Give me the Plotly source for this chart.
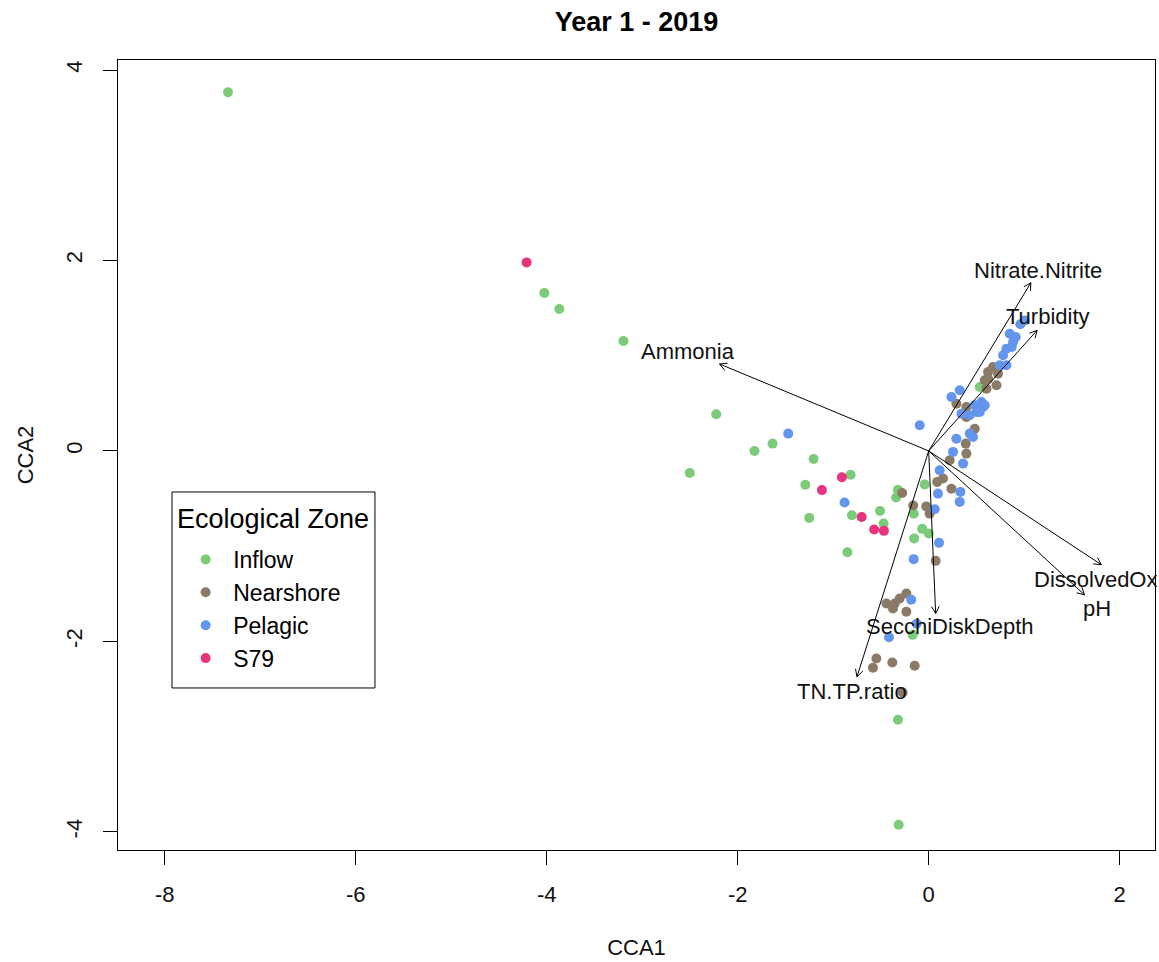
import math
import plotly.graph_objects as go

# ---------------- data ----------------
zones = ["Inflow", "Nearshore", "Pelagic", "S79"]
zone_colors = ["#7CCB79", "#8B7B66", "#6495ED", "#E8347F"]

inflow_x = [-7.338, -4.025, -3.868, -3.197, -2.225, -2.502, -1.824, -1.635, -1.205, -1.292,
            -0.818, -1.251, -0.804, -0.510, -0.472, -0.852, -0.322, -0.341, -0.042, -0.157,
            -0.068, 0.000, -0.152, -0.168, -0.322, -0.314, 0.535]
inflow_y = [3.767, 1.658, 1.490, 1.154, 0.385, -0.231, 0.000, 0.077, -0.084, -0.354,
            -0.249, -0.703, -0.675, -0.630, -0.763, -1.063, -0.409, -0.488, -0.352, -0.658,
            -0.818, -0.866, -0.918, -1.931, -2.823, -3.924, 0.672]

nearshore_x = [-0.278, -0.162, -0.026, 0.010, 0.238, 0.150, 0.089, 0.073, 0.395, 0.220,
               0.388, 0.482, 0.395, 0.395, 0.290, 0.605, 0.710, 0.622, 0.726, 0.674,
               0.622, -0.234, -0.304, -0.443, -0.356, -0.374, -0.234, -0.548, -0.584, -0.381,
               -0.147, -0.273, 0.587]
nearshore_y = [-0.441, -0.572, -0.582, -0.658, -0.396, -0.289, -0.325, -1.154, -0.028, -0.098,
               0.077, 0.234, 0.357, 0.462, 0.496, 0.654, 0.689, 0.759, 0.811, 0.881,
               0.829, -1.497, -1.550, -1.602, -1.602, -1.655, -1.689, -2.179, -2.277, -2.221,
               -2.256, -2.536, 0.742]

pelagic_x = [1.006, 0.960, 0.849, 0.884, 0.814, 0.779, 0.744, 0.814, 0.912, 0.870,
             0.325, 0.238, 0.552, 0.569, 0.500, 0.430, -0.094, 0.430, 0.290, 0.255,
             0.360, 0.115, 0.097, 0.325, 0.063, 0.108, -0.157, -0.183, -0.416, -0.126,
             -1.471, -0.881, 0.332, 0.587, 0.482, 0.535, 0.464, 0.343]
pelagic_y = [1.371, 1.330, 1.231, 1.144, 1.073, 1.004, 0.899, 0.899, 1.196, 1.091,
             0.637, 0.567, 0.514, 0.462, 0.409, 0.375, 0.270, 0.182, 0.129, -0.010,
             -0.133, -0.203, -0.448, -0.535, -0.612, -0.965, -1.136, -1.563, -1.957, -1.815,
             0.182, -0.542, -0.430, 0.480, 0.480, 0.409, 0.147, 0.391]

s79_x = [-4.211, -0.909, -1.118, -0.702, -0.571, -0.469]
s79_y = [1.980, -0.276, -0.411, -0.693, -0.824, -0.839]

env_names = ["Nitrate.Nitrite", "Turbidity", "Ammonia", "DissolvedOx", "pH",
             "SecchiDiskDepth", "TN.TP.ratio"]
env_x = [1.070, 1.135, -2.190, 1.808, 1.632, 0.073, -0.751]
env_y = [1.766, 1.266, 0.913, -1.194, -1.511, -1.707, -2.371]
label_x = [1.140, 1.247, -2.516, 1.080, 1.761, 0.220, -0.807]
label_y = [1.900, 1.417, 1.049, -1.354, -1.658, -1.847, -2.529]
label_anchor = ["center", "center", "center", "left", "center", "center", "center"]

xticks = [-8, -6, -4, -2, 0, 2]
yticks = [-4, -2, 0, 2, 4]

FONT = "Liberation Sans, Arial"

# ---------------- figure ----------------
fig = go.Figure()

series = [(inflow_x, inflow_y), (nearshore_x, nearshore_y), (pelagic_x, pelagic_y), (s79_x, s79_y)]
for name, col, (sx, sy) in zip(zones, zone_colors, series):
    fig.add_trace(go.Scatter(x=sx, y=sy, mode="markers", name=name,
                             marker=dict(color=col, size=10, line=dict(width=0))))

# biplot arrows (shaft + open V head computed from vector)
ax_list, ay_list = [], []
head_len = 0.085
head_ang = math.radians(28)
for vx, vy in zip(env_x, env_y):
    th = math.atan2(vy, vx)
    ax_list += [0, vx, None]
    ay_list += [0, vy, None]
    for s in (1, -1):
        ax_list += [vx - head_len * math.cos(th + s * head_ang), vx, None]
        ay_list += [vy - head_len * math.sin(th + s * head_ang), vy, None]
fig.add_trace(go.Scatter(x=ax_list, y=ay_list, mode="lines", showlegend=False,
                         line=dict(color="black", width=1), hoverinfo="skip"))

for nm, lx, ly, anc in zip(env_names, label_x, label_y, label_anchor):
    fig.add_annotation(x=lx, y=ly, text=nm, showarrow=False, xanchor=anc, yanchor="middle",
                       font=dict(family=FONT, size=22, color="#111111"))

# legend frame + title (legend entries themselves are Plotly's legend)
fig.add_shape(type="rect", xref="paper", yref="paper", x0=0.0521, x1=0.2478, y0=0.2051, y1=0.4532,
              line=dict(color="black", width=1), fillcolor="white", layer="above")
fig.add_annotation(xref="paper", yref="paper", x=0.0545, y=0.4190, xanchor="left", yanchor="middle",
                   text="Ecological Zone", showarrow=False,
                   font=dict(family=FONT, size=27, color="black"))

axis_common = dict(showline=True, linecolor="black", linewidth=1, mirror=True,
                   showgrid=False, zeroline=False, ticks="outside", ticklen=14,
                   tickcolor="black", tickfont=dict(family=FONT, size=22, color="#111111"))

fig.update_xaxes(range=[-8.49, 2.37], tickvals=xticks, ticktext=[str(v) for v in xticks],
                 ticklabelstandoff=11,
                 title=dict(text="CCA1", font=dict(family=FONT, size=22, color="#111111"), standoff=33),
                 **axis_common)
fig.update_yaxes(range=[-4.19, 4.105], tickvals=yticks, ticktext=[str(v) for v in yticks],
                 tickangle=-90, ticklabelstandoff=12,
                 title=dict(text="CCA2", font=dict(family=FONT, size=22, color="#111111"), standoff=22),
                 **axis_common)

fig.update_layout(
    width=1159, height=962,
    margin=dict(l=118, r=4, t=60, b=112),
    paper_bgcolor="white", plot_bgcolor="white",
    title=dict(text="<b>Year 1 - 2019</b>", x=0.5, xref="paper", xanchor="center",
               y=0.978, yanchor="middle",
               font=dict(family=FONT, size=27, color="black")),
    legend=dict(x=0.058, y=0.395, xanchor="left", yanchor="top",
                borderwidth=0, bgcolor="rgba(0,0,0,0)",
                itemwidth=45,
                font=dict(family=FONT, size=23, color="black"),
                tracegroupgap=0),
    showlegend=True,
)

fig.write_html("out.html")
